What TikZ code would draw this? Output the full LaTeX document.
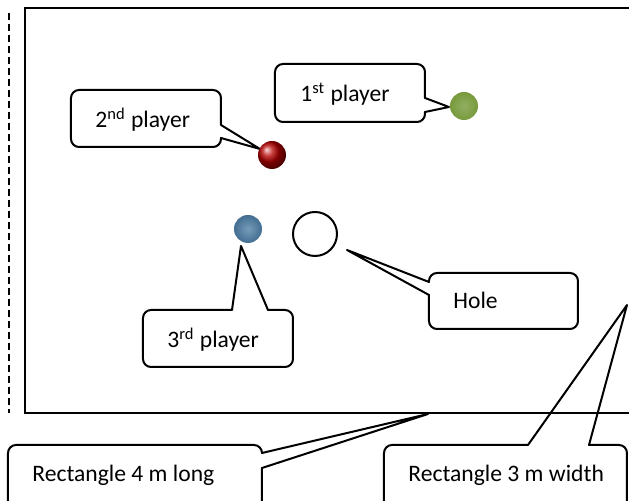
\documentclass[tikz,border=0pt]{standalone}
\usepackage{fontspec}
\setmainfont{Carlito}
\definecolor{redball}{HTML}{B80000}
\definecolor{greenball}{HTML}{779A3B}
\definecolor{blueball}{HTML}{4A7AA2}
\begin{document}
\begin{tikzpicture}[x=0.5pt,y=-0.5pt,
  outline/.style={line width=1pt, line cap=round, line join=round},
  callout/.style={outline, rounded corners=4pt},
  lbl/.style={anchor=base west, inner sep=0pt, font=\fontsize{11.8pt}{14pt}\selectfont},
  ballnode/.style={circle, minimum size=14pt, inner sep=0pt}]
\useasboundingbox (0,0) rectangle (629,501);
\clip (0,0) rectangle (629,501);
% dashed line and court
\draw[line width=1pt, dash pattern=on 3.5pt off 2pt] (9.5,13) -- (9.5,413);
\draw[line width=1.2pt] (640,8) -- (25,8) -- (25,413) -- (640,413);
% tips
\coordinate (tip1) at (449,107);
\coordinate (tip2) at (260,149);
\coordinate (tip3) at (241,246);
\coordinate (tiph) at (347,250);
\coordinate (tip4) at (428,414);
\coordinate (tip5) at (627,305);
% callouts
\draw[callout] (425,112) -- (425,122) -- (275,122) -- (275,64) -- (425,64) -- (425,98);
\draw[outline] (425,98) -- (tip1) -- (425,112);
\draw[callout] (221,138) -- (221,147) -- (71,147) -- (71,90) -- (221,90) -- (221,125);
\draw[outline] (221,125) -- (tip2) -- (221,138);
\draw[callout] (268,310) -- (293,310) -- (293,367) -- (143,367) -- (143,310) -- (232,310);
\draw[outline] (232,310) -- (tip3) -- (268,310);
\draw[callout] (429,295) -- (429,329) -- (578,329) -- (578,273) -- (429,273) -- (429,282);
\draw[outline] (429,282) -- (tiph) -- (429,295);
\draw[callout] (262,468) -- (262,520) -- (8,520) -- (8,445) -- (262,445) -- (262,453);
\draw[outline] (262,453) -- (tip4) -- (262,468);
\draw[callout] (589,445) -- (627,445) -- (627,520) -- (384,520) -- (384,445) -- (528,445);
\draw[outline] (528,445) -- (tip5) -- (589,445);
% balls and hole
\node[ballnode, ball color=redball] (p2) at (272,155) {};
\node[ballnode, shading=radial, inner color=greenball!80!white, outer color=greenball] (p1) at (464,106) {};
\node[ballnode, shading=radial, inner color=blueball!75!white, outer color=blueball!90!black] (p3) at (248,229) {};
\node[circle, draw, line width=1pt, minimum size=22pt, inner sep=0pt] (hole) at (315,234) {};
% labels
\node[lbl] (t1) at (300,102) {1\textsuperscript{st} player};
\node[lbl] (t2) at (95,128) {2\textsuperscript{nd} player};
\node[lbl] (t3) at (167,348) {3\textsuperscript{rd} player};
\node[lbl] (th) at (453,309) {Hole};
\node[lbl] (t4) at (32,482) {Rectangle 4 m long};
\node[lbl] (t5) at (408,482) {Rectangle 3 m width};
\end{tikzpicture}
\end{document}
